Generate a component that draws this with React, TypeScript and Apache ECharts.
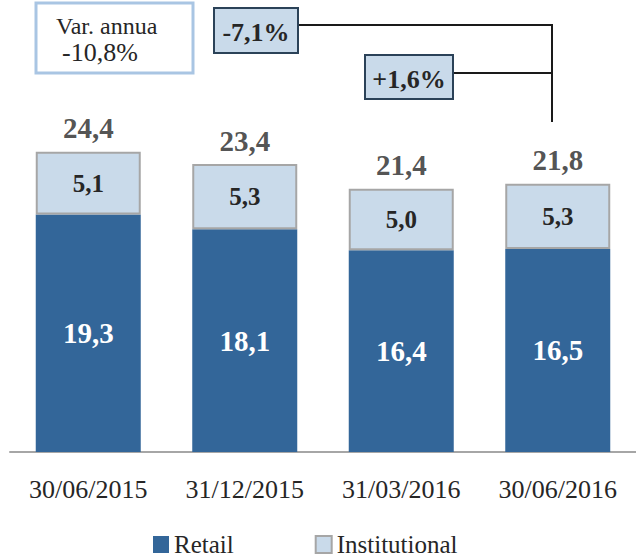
import React, { useEffect, useRef } from "react";
import * as echarts from "echarts";

const categories = ["30/06/2015", "31/12/2015", "31/03/2016", "30/06/2016"];
const retail = [19.3, 18.1, 16.4, 16.5];
const institutional = [5.1, 5.3, 5.0, 5.3];
const totals = [24.4, 23.4, 21.4, 21.8];
const annualLabel = "Var. annua";
const annualValue = "-10,8%";
const changeA = "-7,1%";
const changeB = "+1,6%";

const FONT = "Liberation Serif";
const DARK = "#262626";
const fmt = (v: number) => v.toFixed(1).replace(".", ",");

export default function App() {
  const ref = useRef<HTMLDivElement>(null);
  useEffect(() => {
    if (!ref.current) return;
    const chart = echarts.init(ref.current, null, { renderer: "svg" });
    chart.setOption({
      animation: false,
      textStyle: { fontFamily: FONT },
      grid: { left: 10, right: -4, top: 9, bottom: 106 },
      legend: {
        left: 153,
        top: 532,
        itemWidth: 16,
        itemHeight: 17,
        itemGap: 81,
        icon: "rect",
        padding: 0,
        textStyle: { fontFamily: FONT, fontSize: 25, color: DARK },
        data: ["Retail", "Institutional"],
      },
      xAxis: {
        type: "category",
        data: categories,
        axisLine: { lineStyle: { color: "#a6a6a6", width: 2 } },
        axisTick: { show: false },
        axisLabel: { fontFamily: FONT, fontSize: 26, color: DARK, margin: 24 },
      },
      yAxis: { type: "value", min: 0, max: 36, show: false },
      series: [
        {
          name: "Retail",
          type: "bar",
          stack: "t",
          barWidth: 105,
          data: retail,
          itemStyle: { color: "#336699" },
          label: {
            show: true,
            position: "inside",
            color: "#ffffff",
            fontWeight: "bold",
            fontSize: 29,
            fontFamily: FONT,
            formatter: (p: any) => fmt(p.value),
          },
        },
        {
          name: "Institutional",
          type: "bar",
          stack: "t",
          barWidth: 105,
          data: institutional,
          itemStyle: { color: "#c9daea", borderColor: "#a6a6a6", borderWidth: 2 },
          label: {
            show: true,
            position: "inside",
            color: DARK,
            fontWeight: "bold",
            fontSize: 25,
            fontFamily: FONT,
            formatter: (p: any) => fmt(p.value),
          },
        },
        {
          name: "Total",
          type: "scatter",
          data: totals,
          symbolSize: 0,
          silent: true,
          itemStyle: { color: DARK },
          label: {
            show: true,
            position: "top",
            distance: 9,
            color: DARK,
            fontWeight: "bold",
            fontSize: 29,
            fontFamily: FONT,
            formatter: (p: any) => fmt(p.value),
          },
        },
      ],
      graphic: [
        {
          type: "rect",
          shape: { x: 36, y: 3, width: 157, height: 70 },
          style: { fill: "#ffffff", stroke: "#a9c5e3", lineWidth: 3 },
        },
        {
          type: "text",
          x: 56,
          y: 26,
          style: { text: annualLabel, fontFamily: FONT, fontSize: 24, fill: DARK, verticalAlign: "middle" },
        },
        {
          type: "text",
          x: 62,
          y: 52,
          style: { text: annualValue, fontFamily: FONT, fontSize: 26, fill: DARK, verticalAlign: "middle" },
        },
        {
          type: "polyline",
          shape: { points: [[298, 25], [552, 25], [552, 122]] },
          style: { stroke: "#1a1a1a", lineWidth: 2, fill: "none" },
        },
        {
          type: "line",
          shape: { x1: 453, y1: 73, x2: 552, y2: 73 },
          style: { stroke: "#1a1a1a", lineWidth: 2 },
        },
        {
          type: "rect",
          shape: { x: 214, y: 8, width: 84, height: 45 },
          style: { fill: "#c9daea", stroke: "#2b4258", lineWidth: 2 },
        },
        {
          type: "text",
          x: 256,
          y: 32,
          style: { text: changeA, fontFamily: FONT, fontSize: 26, fontWeight: "bold", fill: DARK, align: "center", verticalAlign: "middle" },
        },
        {
          type: "rect",
          shape: { x: 365, y: 55, width: 88, height: 44 },
          style: { fill: "#c9daea", stroke: "#2b4258", lineWidth: 2 },
        },
        {
          type: "text",
          x: 409,
          y: 79,
          style: { text: changeB, fontFamily: FONT, fontSize: 26, fontWeight: "bold", fill: DARK, align: "center", verticalAlign: "middle" },
        },
      ],
    });
    return () => chart.dispose();
  }, []);
  return <div ref={ref} style={{ position: "absolute", left: 0, top: 0, width: 636, height: 558 }} />;
}
